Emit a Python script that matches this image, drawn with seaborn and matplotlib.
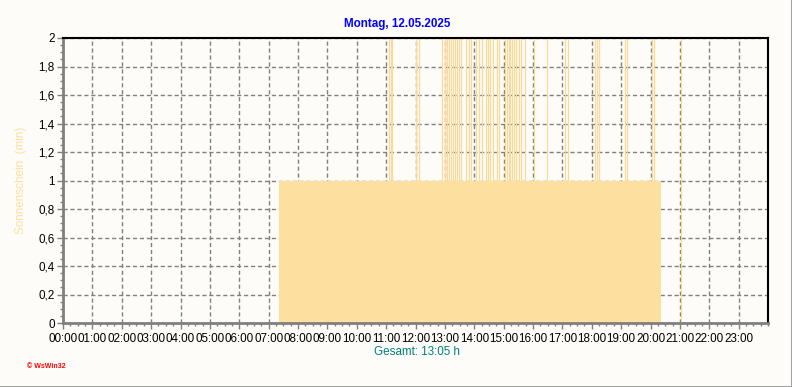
import matplotlib
matplotlib.use("Agg")
import matplotlib.pyplot as plt
import seaborn as sns
import pandas as pd
from matplotlib.patches import Rectangle
from matplotlib.ticker import MultipleLocator

# ---------------- data ----------------
title = "Montag, 12.05.2025"
y_label = "Sonnenschein  (min)"
total_label = "Gesamt: 13:05 h"

hour_ticks = list(range(24))
hour_labels = ["00:00", "01:00", "02:00", "03:00", "04:00", "05:00", "06:00", "07:00",
               "08:00", "09:00", "10:00", "11:00", "12:00", "13:00", "14:00", "15:00",
               "16:00", "17:00", "18:00", "19:00", "20:00", "21:00", "22:00", "23:00"]
y_ticks = [0, 0.2, 0.4, 0.6, 0.8, 1.0, 1.2, 1.4, 1.6, 1.8, 2.0]
y_labels = ["0", "0,2", "0,4", "0,6", "0,8", "1", "1,2", "1,4", "1,6", "1,8", "2"]

# continuous sunshine block (value 1 min/min)
sun_start = "07:21"
sun_end = "20:22"
sun_value = 1.0

# single minutes that reached 2
spike_times = ["11:05", "11:09", "11:13", "12:02", "12:07",
               "12:55", "13:00", "13:04", "13:08", "13:12", "13:16", "13:20", "13:24", "13:28",
               "13:32", "13:44", "13:49", "13:53", "14:03", "14:09", "14:15", "14:25", "14:29",
               "14:33", "14:38", "14:46", "14:50", "15:02", "15:06", "15:10", "15:14", "15:18",
               "15:22", "15:26", "15:31", "15:35", "15:43", "16:03", "16:28", "17:06", "17:11",
               "18:06", "18:10", "18:14", "19:07", "19:11", "20:04", "20:08", "21:03"]
spike_value = 2.0


def to_hours(t):
    h, m = t.split(":")
    return int(h) + int(m) / 60.0


spikes = pd.DataFrame({"time": [to_hours(t) for t in spike_times],
                       "value": [spike_value] * len(spike_times)})

# ---------------- style ----------------
BG = "#FDFCF8"
FILL = "#FDDF9F"
SPIKE = "#FCD994"
GRID = "#808080"

sns.set_style("white")
plt.rcParams["font.family"] = ["Liberation Sans", "DejaVu Sans"]

fig = plt.figure(figsize=(7.92, 3.87), dpi=100, facecolor=BG)
ax = fig.add_axes([63 / 792, 1 - 323 / 387, (768 - 63) / 792, (323 - 38) / 387])
ax.set_facecolor(BG)

# main sunshine block
s0, s1 = to_hours(sun_start), to_hours(sun_end)
ax.bar([s0], [sun_value], width=[s1 - s0], align="edge", color=FILL, linewidth=0, zorder=3)

# spikes (minutes reaching value 2)
ax.vlines(spikes["time"], 0, spikes["value"], color=SPIKE, lw=0.85, zorder=2)

ax.set_xlim(0, 24)
ax.set_ylim(0, 2)

ax.set_xticks(hour_ticks)
ax.set_xticklabels(hour_labels)
ax.set_yticks(y_ticks)
ax.set_yticklabels(y_labels)
ax.xaxis.set_minor_locator(MultipleLocator(0.25))
ax.yaxis.set_minor_locator(MultipleLocator(0.05))

ax.tick_params(axis="both", which="major", length=4, width=1, color=GRID,
               labelsize=8.4, labelcolor="black", pad=2, direction="out",
               bottom=True, left=True)
ax.tick_params(axis="both", which="minor", length=2, width=1, color=GRID,
               direction="out", bottom=True, left=True)
ax.tick_params(axis="x", pad=3)

ax.set_axisbelow(True)
ax.grid(True, which="major", color=GRID, linestyle=(0, (3, 2)), linewidth=1, zorder=1)

for side in ["left", "bottom"]:
    ax.spines[side].set_color(GRID)
    ax.spines[side].set_linewidth(2)
for side in ["top", "right"]:
    ax.spines[side].set_color("black")
    ax.spines[side].set_linewidth(1.5)
for s in ax.spines.values():
    s.set_zorder(5)

ax.set_xlabel("")
ax.set_ylabel(y_label, color="#FDDF9F", fontsize=8.4, labelpad=8)

fig.text(397 / 792, 1 - 24 / 387, title, ha="center", va="center",
         color="#0000FF", fontsize=8.4, fontweight="bold")
fig.text(417 / 792, 1 - 352 / 387, total_label, ha="center", va="center",
         color="#008080", fontsize=8.4)
fig.text(27 / 792, 1 - 367 / 387, "\u00a9 WsWin32", ha="left", va="center",
         color="#FF0000", fontsize=5, fontweight="bold")

# window-like border on right and bottom
fig.add_artist(Rectangle((0, 0), 1, 1 / 387, transform=fig.transFigure,
                         color="#A0A0A0", lw=0))
fig.add_artist(Rectangle((1 - 1 / 792, 0), 1 / 792, 1, transform=fig.transFigure,
                         color="#A0A0A0", lw=0))

fig.savefig("out.png", dpi=100, facecolor=BG)
